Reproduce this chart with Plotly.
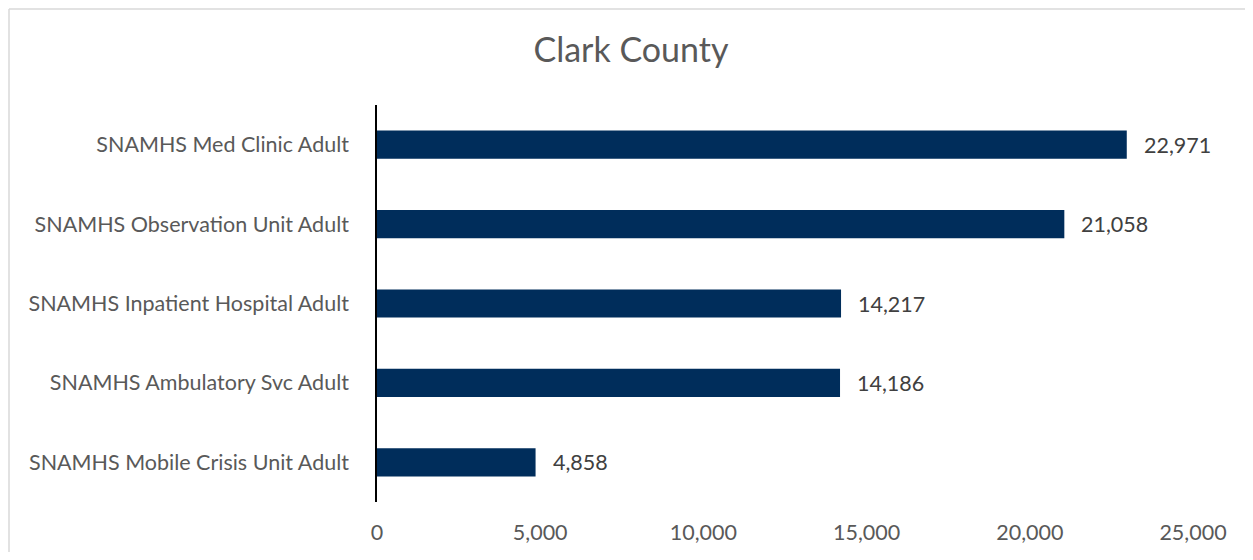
import plotly.graph_objects as go

categories = [
    "SNAMHS Med Clinic Adult",
    "SNAMHS Observation Unit Adult",
    "SNAMHS Inpatient Hospital Adult",
    "SNAMHS Ambulatory Svc Adult",
    "SNAMHS Mobile Crisis Unit Adult",
]
values = [22971, 21058, 14217, 14186, 4858]
tick_vals = [0, 5000, 10000, 15000, 20000, 25000]
tick_text = ["0", "5,000", "10,000", "15,000", "20,000", "25,000"]
title_text = "Clark County"

FONT = "Lato"
BAR = "#002D5B"
FS = 21.5

fig = go.Figure(
    go.Bar(
        x=values,
        y=categories,
        orientation="h",
        marker=dict(color=BAR, line=dict(width=0)),
        hoverinfo="x+y",
    )
)

for c, v in zip(categories, values):
    fig.add_annotation(
        x=v, y=c, xref="x", yref="y",
        text=f"{v:,}", showarrow=False,
        xanchor="left", xshift=15,
        font=dict(family=FONT, size=FS, color="#404040"),
    )

# page is offset by the 8px body margin
OFF = 8
W, H = 1237, 544
ml, mt = 377 - OFF, 105 - OFF
mr = W - (1193 - OFF)
mb = H - (502 - OFF)
pw, ph = W - ml - mr, H - mt - mb

def px_x(p):
    return (p - OFF - ml) / pw

def px_y(p):
    return 1 - (p - OFF - mt) / ph

border = dict(color="#D9D9D9", width=1.5)
fig.add_shape(type="line", xref="paper", yref="paper",
              x0=px_x(OFF + 1), x1=px_x(OFF + 1), y0=px_y(OFF + 1), y1=px_y(OFF + H),
              line=border, layer="below")
fig.add_shape(type="line", xref="paper", yref="paper",
              x0=px_x(OFF + 1), x1=px_x(OFF + W), y0=px_y(OFF + 1), y1=px_y(OFF + 1),
              line=border, layer="below")

fig.update_layout(
    width=W, height=H,
    margin=dict(l=ml, r=mr, t=mt, b=mb, autoexpand=False),
    paper_bgcolor="white", plot_bgcolor="white",
    bargap=0.645,
    showlegend=False,
    title=dict(
        text=title_text, x=(631 - OFF) / W, xanchor="center",
        y=1 - (50 - OFF) / H, yanchor="middle",
        font=dict(family=FONT, size=34, color="#595959"),
    ),
    xaxis=dict(
        range=[0, 25000], tickvals=tick_vals, ticktext=tick_text,
        showgrid=False, zeroline=False, showline=False,
        tickfont=dict(family=FONT, size=FS, color="#595959"),
        ticks="", ticklabelstandoff=15, automargin=False,
    ),
    yaxis=dict(
        autorange="reversed", showgrid=False, zeroline=False,
        showline=True, linecolor="black", linewidth=1.5,
        tickfont=dict(family=FONT, size=FS, color="#595959"),
        ticks="", ticklabelstandoff=22, automargin=False,
    ),
)

fig.write_html("out.html")
